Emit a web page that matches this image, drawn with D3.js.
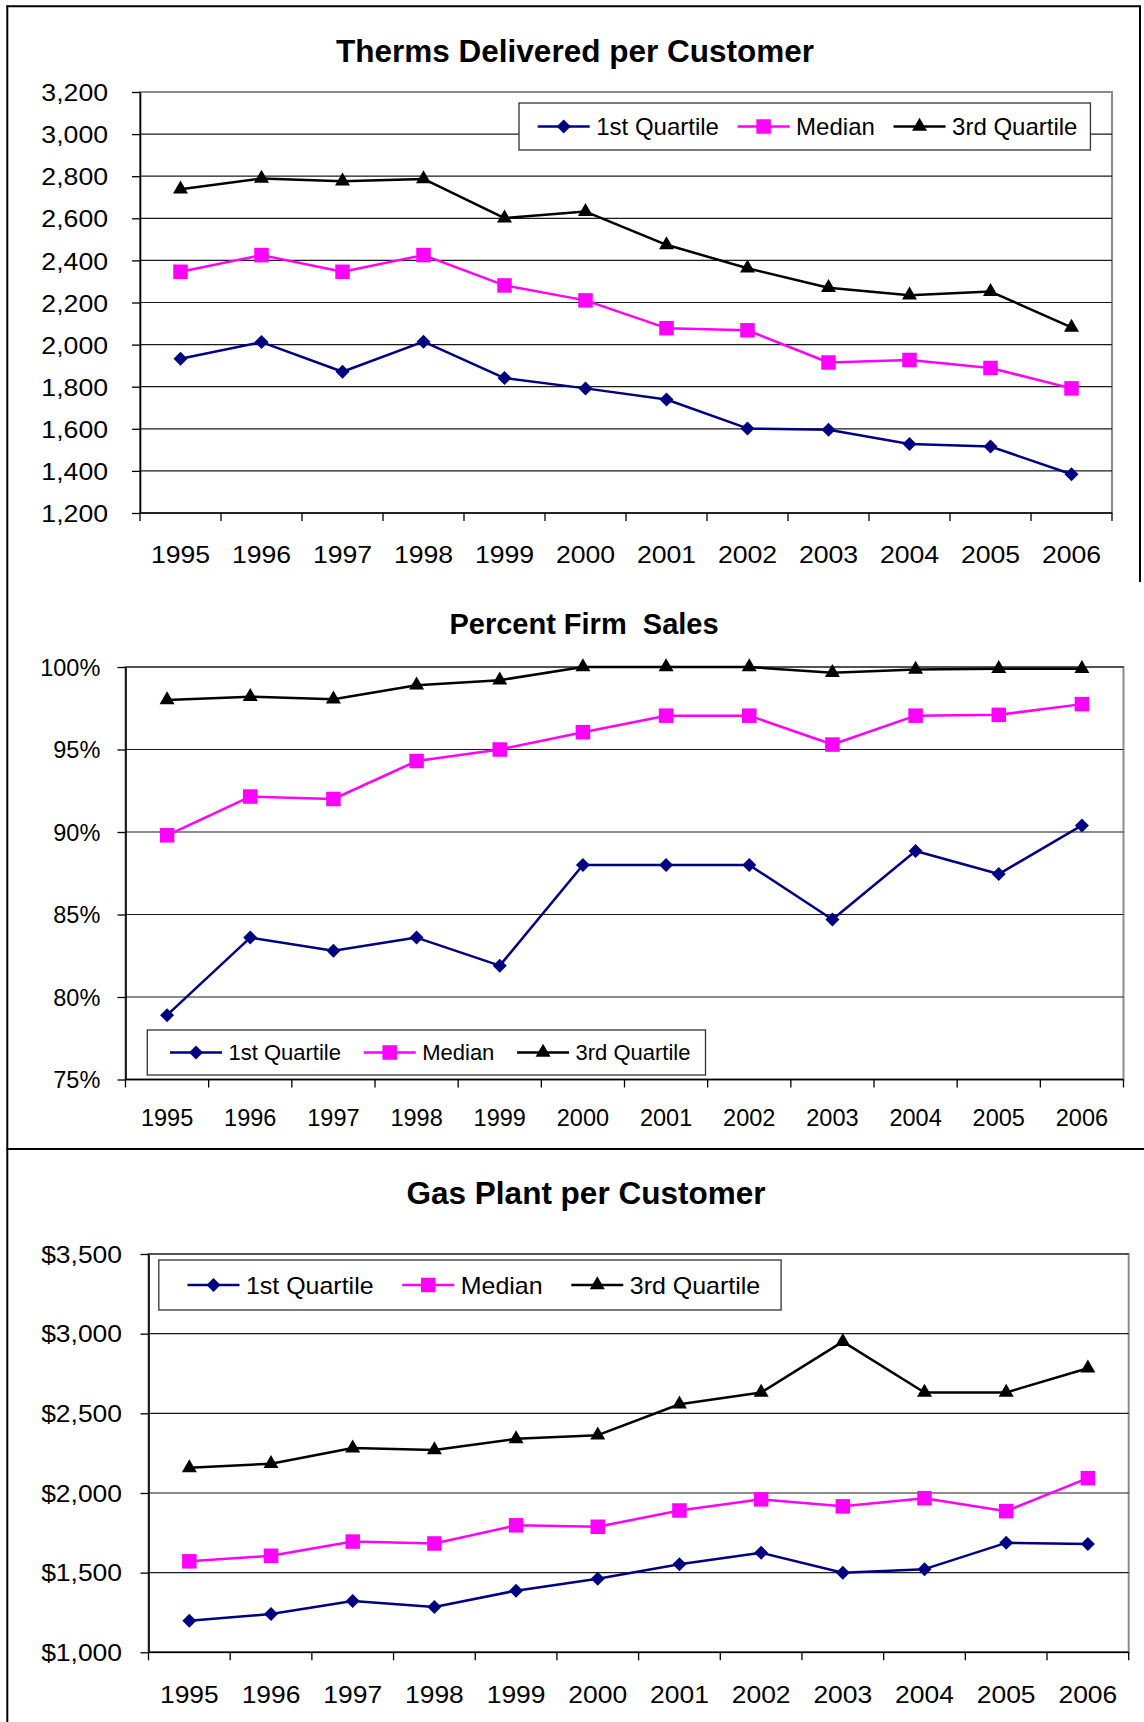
<!DOCTYPE html>
<html>
<head>
<meta charset="utf-8">
<script src="https://cdn.jsdelivr.net/npm/d3@7"></script>
<style>
body { margin: 0; background: #fff; }
svg { display: block; font-family: "Liberation Sans", Arial, sans-serif; }
</style>
</head>
<body>
<div id="svg"></div>
<script>

// shared categories and legend
var years = ["1995", "1996", "1997", "1998", "1999", "2000",
             "2001", "2002", "2003", "2004", "2005", "2006"];
var series_names = ["1st Quartile", "Median", "3rd Quartile"];

// therms delivered per customer
var therms_q1  = [1933, 2012, 1871, 2014, 1841, 1792, 1739, 1602, 1595, 1528, 1516, 1384];
var therms_med = [2346, 2425, 2346, 2425, 2281, 2210, 2078, 2068, 1915, 1927, 1889, 1792];
var therms_q3  = [2738, 2789, 2776, 2787, 2601, 2632, 2474, 2363, 2270, 2235, 2252, 2082];
var therms_ticks = [1200, 1400, 1600, 1800, 2000, 2200, 2400, 2600, 2800, 3000, 3200];

// percent firm sales
var firm_q1  = [78.9, 83.6, 82.8, 83.6, 81.9, 88.0, 88.0, 88.0, 84.7, 88.85, 87.45, 90.4];
var firm_med = [89.8, 92.15, 92.0, 94.3, 95.0, 96.05, 97.05, 97.05, 95.3, 97.05, 97.1, 97.75];
var firm_q3  = [98.0, 98.2, 98.05, 98.9, 99.2, 100, 100, 100, 99.65, 99.85, 99.9, 99.9];
var firm_ticks = [75, 80, 85, 90, 95, 100];

// gas plant per customer
var plant_q1  = [1198, 1240, 1322, 1284, 1387, 1461, 1552, 1625, 1499, 1522, 1687, 1680];
var plant_med = [1571, 1606, 1695, 1683, 1797, 1788, 1890, 1960, 1916, 1967, 1886, 2093];
var plant_q3  = [2158, 2184, 2282, 2270, 2340, 2363, 2557, 2631, 2950, 2631, 2631, 2783];
var plant_ticks = [1000, 1500, 2000, 2500, 3000, 3500];


var series_colors  = ["#000080", "#ff00ff", "#000000"];
var series_symbols = ["diamond", "square", "triangle"];

var comma = d3.format(",");

// layout of the three stacked charts
var charts = [
    {title: "Therms Delivered per Customer",
     title_x: 575, title_y: 61.5, title_size: 31.5,
     values: [therms_q1, therms_med, therms_q3], ticks: therms_ticks,
     fmt: function(d) { return comma(d); },
     left: 140, right: 1112, top: 92, bot: 513,
     tick_size: 24, tick_sx: 1.11, ylab_gap: 32, xlab_dy: 41,
     grid_top: false,
     leg: {x: 519, y: 103, h: 47, size: 24, sx: 1, pad: 18.7, pad_r: 13}},
    {title: "Percent Firm  Sales",
     title_x: 584, title_y: 633.5, title_size: 29,
     values: [firm_q1, firm_med, firm_q3], ticks: firm_ticks,
     fmt: function(d) { return d + "%"; },
     left: 125.5, right: 1123.5, top: 667, bot: 1079.5,
     tick_size: 23.5, tick_sx: 1, ylab_gap: 25.2, xlab_dy: 37.6,
     grid_top: true,
     leg: {x: 147.3, y: 1030, h: 45, size: 22, sx: 1, pad: 22.7, pad_r: 15}},
    {title: "Gas Plant per Customer",
     title_x: 586, title_y: 1203.5, title_size: 31.5,
     values: [plant_q1, plant_med, plant_q3], ticks: plant_ticks,
     fmt: function(d) { return "$" + comma(d); },
     left: 148.5, right: 1128.7, top: 1254, bot: 1652.3,
     tick_size: 23, tick_sx: 1.15, ylab_gap: 26.5, xlab_dy: 42.7,
     grid_top: true,
     leg: {x: 158.8, y: 1260, h: 50, size: 24, sx: 1.04, pad: 28.7, pad_r: 21}}
];


var svg = d3.select("body").select("[id=\"svg\"]").append("svg")
    .attr("width", 1144)
    .attr("height", 1722);

svg.append("rect")
    .attr("width", 1144)
    .attr("height", 1722)
    .attr("fill", "#fff");

charts.forEach(draw_chart);
draw_frames();


function symbol_path(kind) {
    if (kind == "diamond") {
        return d3.symbol(d3.symbolSquare, 14 * 14 / 2)();
    } else if (kind == "square") {
        return d3.symbol(d3.symbolSquare, 14.5 * 14.5)();
    }
    return d3.symbol(d3.symbolTriangle, 15 * 15 * Math.sqrt(3) / 4)();
}

function add_marker(g, kind, cx, cy, color) {
    g.append("path")
        .attr("d", symbol_path(kind))
        .attr("fill", color)
        .attr("transform", "translate(" + cx + "," + cy + ")"
              + (kind == "diamond" ? " rotate(45)" : ""));
}


function draw_chart(c) {
    var g = svg.append("g");

    var x = d3.scaleBand()
        .domain(years)
        .range([c.left, c.right]);
    var y = d3.scaleLinear()
        .domain([c.ticks[0], c.ticks[c.ticks.length - 1]])
        .range([c.bot, c.top]);
    var bw = x.bandwidth();

    // title
    g.append("text")
        .attr("x", c.title_x)
        .attr("y", c.title_y)
        .attr("text-anchor", "middle")
        .attr("font-weight", "bold")
        .attr("font-size", c.title_size)
        .style("white-space", "pre")
        .text(c.title);

    // plot area border (grey top / right)
    g.append("rect")
        .attr("x", c.left)
        .attr("y", c.top)
        .attr("width", c.right - c.left)
        .attr("height", c.bot - c.top)
        .attr("fill", "none")
        .attr("stroke", "#8c8c8c")
        .attr("stroke-width", 2);

    // gridlines
    var grid = c.ticks.slice(1, c.grid_top ? c.ticks.length : c.ticks.length - 1);
    g.append("g").selectAll("line")
        .data(grid)
        .join("line")
        .attr("x1", c.left)
        .attr("x2", c.right)
        .attr("y1", function(d) { return y(d); })
        .attr("y2", function(d) { return y(d); })
        .attr("stroke", "#1a1a1a")
        .attr("stroke-width", 1.2);

    // y axis
    var ya = g.append("g")
        .attr("transform", "translate(" + c.left + ",0)")
        .call(d3.axisLeft(y)
              .tickValues(c.ticks)
              .tickFormat(c.fmt)
              .tickSize(8)
              .tickSizeOuter(0)
              .tickPadding(c.ylab_gap - 8));
    ya.attr("font-family", null).attr("font-size", c.tick_size);
    ya.select(".domain").attr("stroke", "#000").attr("stroke-width", 1.6);
    ya.selectAll(".tick line").attr("stroke", "#000").attr("stroke-width", 1.3);
    ya.selectAll("text")
        .attr("fill", "#000")
        .attr("x", -c.ylab_gap / c.tick_sx)
        .attr("dy", null)
        .attr("y", c.tick_size * 0.36)
        .attr("transform", "scale(" + c.tick_sx + ",1)");

    // x axis : line, ticks on band edges, labels centered
    g.append("line")
        .attr("x1", c.left)
        .attr("x2", c.right)
        .attr("y1", c.bot)
        .attr("y2", c.bot)
        .attr("stroke", "#000")
        .attr("stroke-width", 1.6);
    var edges = years.map(function(d) { return x(d); }).concat([c.right]);
    g.append("g").selectAll("line")
        .data(edges)
        .join("line")
        .attr("x1", function(d) { return d; })
        .attr("x2", function(d) { return d; })
        .attr("y1", c.bot)
        .attr("y2", c.bot + 8)
        .attr("stroke", "#000")
        .attr("stroke-width", 1.3);

    var xa = g.append("g")
        .attr("transform", "translate(0," + c.bot + ")")
        .call(d3.axisBottom(x).tickSize(0).tickSizeOuter(0));
    xa.select(".domain").remove();
    xa.attr("font-family", null).attr("font-size", c.tick_size);
    xa.selectAll("text")
        .attr("fill", "#000")
        .attr("dy", null)
        .attr("y", c.xlab_dy + c.tick_size * 0.36)
        .attr("transform", "scale(" + c.tick_sx + ",1)");

    // series
    var line = d3.line()
        .x(function(d, i) { return x(years[i]) + bw / 2; })
        .y(function(d) { return y(d); });

    c.values.forEach(function(vals, k) {
        g.append("path")
            .attr("d", line(vals))
            .attr("fill", "none")
            .attr("stroke", series_colors[k])
            .attr("stroke-width", 2.5)
            .attr("stroke-linejoin", "round");
        vals.forEach(function(v, i) {
            add_marker(g, series_symbols[k], x(years[i]) + bw / 2, y(v), series_colors[k]);
        });
    });

    draw_legend(g, c.leg);
}


function draw_legend(g, l) {
    var lg = g.append("g");
    var box = lg.append("rect")
        .attr("x", l.x)
        .attr("y", l.y)
        .attr("height", l.h)
        .attr("fill", "#fff")
        .attr("stroke", "#333")
        .attr("stroke-width", 1.3);

    var cy = l.y + l.h / 2;
    var cx = l.x + l.pad;
    series_names.forEach(function(name, k) {
        lg.append("line")
            .attr("x1", cx)
            .attr("x2", cx + 52)
            .attr("y1", cy)
            .attr("y2", cy)
            .attr("stroke", series_colors[k])
            .attr("stroke-width", 2.5);
        add_marker(lg, series_symbols[k], cx + 26, cy, series_colors[k]);
        var t = lg.append("text")
            .attr("transform", "translate(" + (cx + 58.5) + "," + (cy + l.size * 0.36) + ") scale(" + l.sx + ",1)")
            .attr("font-size", l.size)
            .text(name);
        var w = t.node().getComputedTextLength() * l.sx;
        cx = cx + 58.5 + w + l.pad;
    });
    box.attr("width", cx - l.pad + l.pad_r - l.x);
}


// outer borders of the pasted panels
function draw_frames() {
    var fr = svg.append("g")
        .attr("stroke", "#000")
        .attr("stroke-width", 2);
    fr.append("line").attr("x1", 7.3).attr("x2", 7.3).attr("y1", 5.5).attr("y2", 1722);
    fr.append("line").attr("x1", 6.3).attr("x2", 1140.5).attr("y1", 6.3).attr("y2", 6.3);
    fr.append("line").attr("x1", 1140).attr("x2", 1140).attr("y1", 5.5).attr("y2", 582);
    fr.append("line").attr("x1", 6.3).attr("x2", 1144).attr("y1", 1149).attr("y2", 1149);
}

</script>
</body>
</html>
